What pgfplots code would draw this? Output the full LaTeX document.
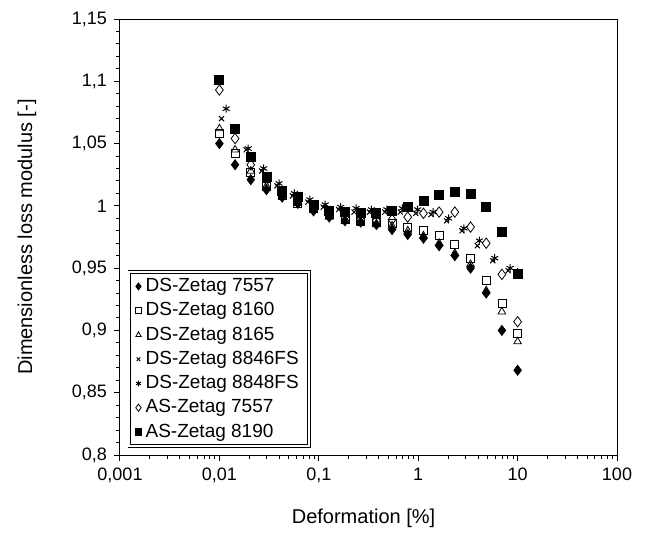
\documentclass[border=0pt]{standalone}
\usepackage{fontspec}
\setmainfont{Liberation Sans}
\usepackage{pgfplots}
\pgfplotsset{compat=1.18}

\begin{document}
\begin{tikzpicture}
\begin{axis}[
  scale only axis, width=248.5pt, height=218pt,
  xmode=log, xmin=0.001, xmax=100,
  ymin=0.8, ymax=1.15,
  xtick={0.001,0.01,0.1,1,10,100},
  xticklabels={{0,001},{0,01},{0,1},{1},{10},{100}},
  ytick={0.8,0.85,0.9,0.95,1,1.05,1.1,1.15},
  yticklabels={{0,8},{0,85},{0,9},{0,95},{1},{1,05},{1,1},{1,15}},
  minor y tick num=4,
  tick align=outside, tick pos=left,
  major tick length=3pt, minor tick length=2pt,
  axis line style={line width=0.5pt},
  every tick/.style={black, line width=0.5pt},
  tick label style={font=\fontsize{9}{11}\selectfont},
  label style={font=\fontsize{10}{12}\selectfont},
  xlabel={Deformation [\%]},
  ylabel={Dimensionless loss modulus [-]},
  xlabel style={at={(axis description cs:0.49,-0.145)}, anchor=center},
  ylabel style={at={(axis description cs:-0.187,0.5)}, anchor=center},
  legend style={at={(axis description cs:0.018,0.42)}, anchor=north west,
    draw=black, double, double distance=1pt,
    font=\fontsize{9.5}{11}\selectfont, row sep=0pt,
    inner xsep=3pt, inner ysep=1pt},
  legend cell align=left,
  legend image post style={scale=0.7},
  every axis plot/.append style={only marks, black, mark options={solid, line width=0.5pt}},
]
% DS-Zetag 7557
\addplot[mark=diamond*, mark size=2.5pt, mark options={fill=black}] coordinates {
(0.01,1.050)(0.01438,1.033)(0.02069,1.021)(0.02976,1.013)(0.04281,1.007)
(0.06158,1.002)(0.08859,0.996)(0.1274,0.991)(0.1833,0.988)(0.2637,0.987)
(0.3793,0.985)(0.5456,0.981)(0.7848,0.977)(1.129,0.974)(1.624,0.968)
(2.336,0.960)(3.360,0.950)(4.833,0.930)(6.952,0.900)(10,0.868)};
% DS-Zetag 8160
\addplot[mark=square, mark size=2pt, mark options={fill=white}] coordinates {
(0.01,1.058)(0.01438,1.042)(0.02069,1.027)(0.02976,1.016)(0.04281,1.008)
(0.06158,1.002)(0.08859,0.998)(0.1274,0.993)(0.1833,0.989)(0.2637,0.988)
(0.3793,0.987)(0.5456,0.986)(0.7848,0.983)(1.129,0.980)(1.624,0.976)
(2.336,0.969)(3.360,0.958)(4.833,0.940)(6.952,0.922)(10,0.898)};
% DS-Zetag 8165
\addplot[mark=triangle, mark size=2.2pt, mark options={fill=white}] coordinates {
(0.01,1.062)(0.01438,1.045)(0.02069,1.028)(0.02976,1.016)(0.04281,1.008)
(0.06158,1.002)(0.08859,0.997)(0.1274,0.991)(0.1833,0.988)(0.2637,0.986)
(0.3793,0.985)(0.5456,0.984)(0.7848,0.980)(1.129,0.976)(1.624,0.970)
(2.336,0.962)(3.360,0.953)(4.833,0.932)(6.952,0.915)(10,0.891)};
% DS-Zetag 8846FS
\addplot[mark=x, mark size=1.8pt] coordinates {
(0.0105,1.070)(0.0186,1.045)(0.0266,1.028)(0.0380,1.016)(0.0543,1.008)
(0.0776,1.003)(0.1109,0.999)(0.1585,0.997)(0.2265,0.995)(0.3236,0.995)
(0.4624,0.995)(0.6607,0.995)(0.9441,0.994)(1.349,0.993)(1.928,0.988)
(2.754,0.980)(3.936,0.968)(5.623,0.956)(8.035,0.948)(10,0.946)};
% DS-Zetag 8848FS
\addplot[mark=asterisk, mark size=2pt] coordinates {
(0.0117,1.078)(0.0195,1.046)(0.0279,1.030)(0.0398,1.018)(0.0569,1.010)
(0.0813,1.005)(0.1161,1.001)(0.1660,0.999)(0.2371,0.998)(0.3388,0.997)
(0.4842,0.997)(0.6918,0.998)(0.9886,0.997)(1.413,0.995)(2.018,0.990)
(2.884,0.982)(4.121,0.972)(5.888,0.958)(8.414,0.950)(10,0.947)};
% AS-Zetag 7557
\addplot[mark=diamond, mark size=2.6pt, mark options={fill=white}] coordinates {
(0.01,1.093)(0.01438,1.054)(0.02069,1.033)(0.02976,1.021)(0.04281,1.011)
(0.06158,1.005)(0.08859,0.999)(0.1274,0.994)(0.1833,0.991)(0.2637,0.989)
(0.3793,0.988)(0.5456,0.989)(0.7848,0.991)(1.129,0.994)(1.624,0.995)
(2.336,0.995)(3.360,0.983)(4.833,0.970)(6.952,0.945)(10,0.907)};
% AS-Zetag 8190
\addplot[mark=square*, mark size=2.25pt, mark options={fill=black}] coordinates {
(0.01,1.101)(0.01438,1.062)(0.02069,1.039)(0.02976,1.023)(0.04281,1.012)
(0.06158,1.007)(0.08859,1.001)(0.1274,0.996)(0.1833,0.995)(0.2637,0.994)
(0.3793,0.994)(0.5456,0.996)(0.7848,0.999)(1.129,1.004)(1.624,1.009)
(2.336,1.011)(3.360,1.010)(4.833,0.999)(6.952,0.979)(10,0.945)};
\legend{DS-Zetag 7557, DS-Zetag 8160, DS-Zetag 8165, DS-Zetag 8846FS, DS-Zetag 8848FS, AS-Zetag 7557, AS-Zetag 8190}
\end{axis}
\pgfresetboundingbox
\path (-60pt,-40pt) rectangle (263pt,227.5pt);
\end{tikzpicture}
\end{document}
